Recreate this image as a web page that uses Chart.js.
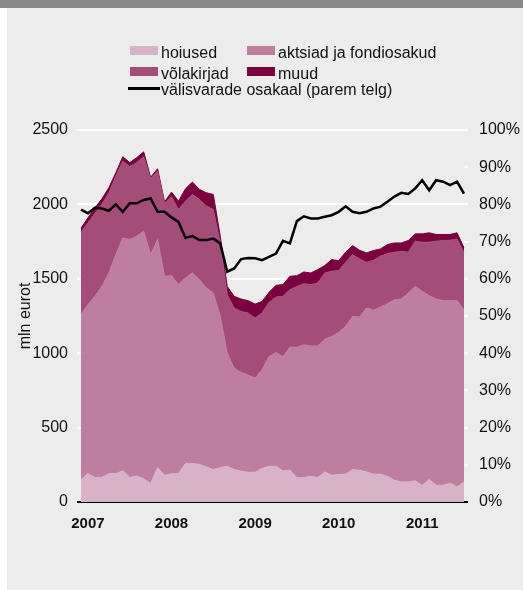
<!DOCTYPE html>
<html lang="et">
<head>
<meta charset="UTF-8">
<title>Välisvarad</title>
<script src="https://cdn.jsdelivr.net/npm/chart.js@4.4.0/dist/chart.umd.min.js"></script>
<style>
  html, body { margin: 0; padding: 0; background: #fff; }
  #wrap { position: relative; width: 523px; height: 590px; overflow: hidden; font-family: "Liberation Sans", Arial, sans-serif; }
  #panel { position: absolute; left: 7px; top: 0; width: 516px; height: 590px; background: #ebeceb; }
  #bar { position: absolute; left: 0; top: 0; width: 523px; height: 8px; background: #898989; }
  #chart { position: absolute; left: 0; top: 0; }
  .lg { position: absolute; font-size: 16px; line-height: 16px; color: #111; white-space: nowrap; }
  .box { position: absolute; width: 28px; height: 9px; }
  .ln { position: absolute; width: 32px; height: 3px; background: #000; }
</style>
</head>
<body>
<div id="wrap">
  <div id="panel"></div>
  <div id="bar"></div>
  <canvas id="chart" width="523" height="590"></canvas>
  <div id="legend"></div>
</div>
<script>
// monthly, Dec 2006 .. Jul 2011
const months = [
  '2006-12',
  '2007-01','2007-02','2007-03','2007-04','2007-05','2007-06','2007-07','2007-08','2007-09','2007-10','2007-11','2007-12',
  '2008-01','2008-02','2008-03','2008-04','2008-05','2008-06','2008-07','2008-08','2008-09','2008-10','2008-11','2008-12',
  '2009-01','2009-02','2009-03','2009-04','2009-05','2009-06','2009-07','2009-08','2009-09','2009-10','2009-11','2009-12',
  '2010-01','2010-02','2010-03','2010-04','2010-05','2010-06','2010-07','2010-08','2010-09','2010-10','2010-11','2010-12',
  '2011-01','2011-02','2011-03','2011-04','2011-05','2011-06','2011-07'
];

// mln eurot
const hoiused = [
  150,190,165,165,190,190,210,165,175,155,
  125,230,180,190,190,258,258,254,236,218,
  231,240,218,207,200,200,225,240,240,209,
  213,164,164,173,164,202,180,185,187,218,
  213,202,187,187,173,146,135,135,142,112,
  151,112,112,128,101,135
];
const aktsiad = [
  1110,1136,1217,1284,1349,1473,1565,1599,1611,1665,
  1538,1534,1337,1331,1271,1247,1281,1240,1202,1186,
  1016,760,681,663,654,632,663,737,764,768,
  827,876,892,876,885,892,932,954,993,1029,
  1030,1101,1101,1123,1159,1213,1229,1269,1307,1304,
  1235,1252,1241,1225,1252,1157
];
const volakirjad = [
  555,550,557,551,539,528,517,490,495,501,
  510,461,490,531,505,517,528,540,551,562,
  494,393,404,411,416,404,382,364,373,405,
  387,409,411,412,423,445,438,417,431,416,
  391,308,337,342,338,320,321,275,304,330,
  360,389,404,406,415,382
];
const muud = [
  25,34,38,38,34,22,29,27,33,32,
  10,15,10,31,56,83,83,67,89,101,
  45,56,79,83,83,94,78,68,79,79,
  90,72,79,78,90,50,79,66,68,60,
  58,63,65,49,60,62,56,78,49,56,
  63,45,41,39,41,34
];
// välisvarade osakaal, %
const osakaal = [
  78.6,77.6,79.1,78.9,78.3,80.0,78.0,80.3,80.3,81.2,
  81.6,78.0,78.0,76.5,75.3,71.0,71.5,70.4,70.4,70.8,
  69.5,61.9,62.8,65.3,65.6,65.5,65.0,65.9,66.8,70.2,
  69.5,75.5,76.8,76.2,76.2,76.7,77.1,78.0,79.5,78.0,
  77.6,78.0,78.9,79.4,80.7,82.1,83.1,82.8,84.3,86.5,
  83.8,86.5,86.1,85.2,86.1,82.9
];

const areaNames = ['hoiused', 'aktsiad ja fondiosakud', 'võlakirjad', 'muud'];
const areaColors = ['#d8b2c6', '#be7f9e', '#a54d79', '#7a003e'];
const lineName = 'välisvarade osakaal (parem telg)';
const leftTicks = [0, 500, 1000, 1500, 2000, 2500];
const rightTicks = [0, 10, 20, 30, 40, 50, 60, 70, 80, 90, 100];

// legend (html, laid out like the original two-column block)
const legendEl = document.getElementById('legend');
const legPos = [[130, 46], [247, 46], [130, 67], [247, 67]];
areaNames.forEach((name, i) => {
  const [x, y] = legPos[i];
  legendEl.insertAdjacentHTML('beforeend',
    `<div class="box" style="left:${x}px;top:${y}px;background:${areaColors[i]}"></div>` +
    `<div class="lg" style="left:${x + 31}px;top:${y - 1}px">${name}</div>`);
});
legendEl.insertAdjacentHTML('beforeend',
  `<div class="ln" style="left:128px;top:87px"></div>` +
  `<div class="lg" style="left:161px;top:82px">${lineName}</div>`);

const seriesData = [hoiused, aktsiad, volakirjad, muud];
const datasets = seriesData.map((d, i) => ({
  label: areaNames[i],
  data: d,
  yAxisID: 'y',
  backgroundColor: areaColors[i],
  borderColor: areaColors[i],
  borderWidth: 1,
  pointRadius: 0,
  tension: 0,
  fill: i === 0 ? 'origin' : '-1'
}));
datasets.push({
  label: lineName,
  data: osakaal,
  yAxisID: 'y2',
  borderColor: '#000',
  borderWidth: 2.5,
  pointRadius: 0,
  tension: 0,
  fill: false,
  order: -1
});

const tickFont = { family: '"Liberation Sans", Arial, sans-serif', size: 16 };
const zeroBlack = ctx => (ctx.tick && ctx.tick.value === 0) ? '#000' : '#fff';

new Chart(document.getElementById('chart'), {
  type: 'line',
  data: { labels: months, datasets: datasets },
  options: {
    responsive: false,
    animation: false,
    devicePixelRatio: 1,
    layout: { padding: { left: 0, right: 0, top: 130, bottom: 58 } },
    plugins: { legend: { display: false }, tooltip: { enabled: false } },
    scales: {
      x: {
        type: 'category',
        offset: false,
        z: 1,
        grid: { display: false, drawTicks: false },
        border: { display: true, color: '#000', width: 2 },
        ticks: {
          autoSkip: false,
          maxRotation: 0,
          padding: 13,
          color: '#111',
          font: { family: tickFont.family, size: 15, weight: 'bold' },
          callback: function (val, i) {
            const m = months[i];
            return m.slice(5) === '01' ? m.slice(0, 4) : '';
          }
        },
        afterFit: s => { s.height = 30; }
      },
      y: {
        position: 'left',
        stacked: true,
        min: 0,
        max: 2500,
        afterBuildTicks: s => { s.ticks = leftTicks.map(v => ({ value: v })); },
        grid: { color: zeroBlack, tickColor: zeroBlack, lineWidth: 2, drawTicks: true, tickLength: 4 },
        border: { display: false },
        ticks: { padding: 9, color: '#111', font: tickFont, callback: v => String(v) },
        title: { display: true, text: 'mln eurot', color: '#111', font: tickFont, padding: { top: 16, bottom: 0 } },
        afterFit: s => { s.width = 81; }
      },
      y2: {
        position: 'right',
        min: 0,
        max: 100,
        afterBuildTicks: s => { s.ticks = rightTicks.map(v => ({ value: v })); },
        grid: { drawOnChartArea: false, color: zeroBlack, tickColor: zeroBlack, lineWidth: 2, drawTicks: true, tickLength: 4 },
        border: { display: false },
        ticks: { padding: 11, color: '#111', font: tickFont, callback: v => v + '%' },
        afterFit: s => { s.width = 59; }
      }
    }
  }
});
</script>
</body>
</html>
